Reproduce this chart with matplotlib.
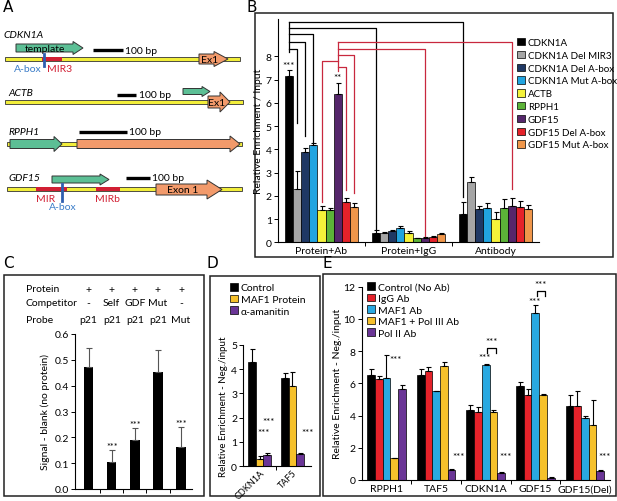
import numpy as np
import matplotlib
matplotlib.use('Agg')
import matplotlib.pyplot as plt
from matplotlib import patches

plt.rcParams['font.family'] = ['Lato', 'DejaVu Sans']
plt.rcParams['axes.linewidth'] = 0.8

W, H = 617, 502

# ---------------- data ----------------
b_groups = ['Protein+Ab', 'Protein+IgG', 'Antibody']
b_series = ['CDKN1A', 'CDKN1A Del MIR3', 'CDKN1A Del A-box', 'CDKN1A Mut A-box',
            'ACTB', 'RPPH1', 'GDF15', 'GDF15 Del A-box', 'GDF15 Mut A-box']
b_colors = ['#000000', '#a5a5a5', '#1f3864', '#21a4e0', '#f4f23a',
            '#5cb338', '#55266b', '#e5222a', '#f0964a']
b_vals = [[7.15, 0.39, 1.22],
          [2.30, 0.39, 2.58],
          [3.90, 0.47, 1.43],
          [4.20, 0.63, 1.48],
          [1.40, 0.39, 1.00],
          [1.40, 0.17, 1.49],
          [6.40, 0.19, 1.58],
          [1.75, 0.23, 1.50],
          [1.52, 0.34, 1.42]]
b_errs = [[0.25, 0.15, 0.53],
          [0.75, 0.04, 0.22],
          [0.15, 0.04, 0.15],
          [0.08, 0.08, 0.21],
          [0.15, 0.11, 0.29],
          [0.08, 0.02, 0.37],
          [0.45, 0.02, 0.31],
          [0.17, 0.05, 0.26],
          [0.18, 0.07, 0.20]]

c_vals = [0.474, 0.106, 0.188, 0.454, 0.163]
c_errs = [0.071, 0.046, 0.049, 0.086, 0.078]
c_protein = ['+', '+', '+', '+', '+']
c_competitor = ['-', 'Self', 'GDF', 'Mut', '-']
c_probe = ['p21', 'p21', 'p21', 'p21', 'Mut']
c_stars = ['', '***', '***', '', '***']

d_genes = ['CDKN1A', 'TAF5']
d_series = ['Control', 'MAF1 Protein', 'α-amanitin']
d_colors = ['#000000', '#f6c12b', '#6a3596']
d_vals = [[4.30, 3.62], [0.30, 3.30], [0.48, 0.52]]
d_errs = [[0.52, 0.20], [0.11, 0.58], [0.07, 0.03]]

e_genes = ['RPPH1', 'TAF5', 'CDKN1A', 'GDF15', 'GDF15(Del)']
e_series = ['Control (No Ab)', 'IgG Ab', 'MAF1 Ab', 'MAF1 + Pol III Ab', 'Pol II Ab']
e_colors = ['#000000', '#e5222a', '#29a9e1', '#f6c12b', '#6a3596']
e_vals = [[6.50, 6.54, 4.33, 5.84, 4.58],
          [6.25, 6.76, 4.19, 5.30, 4.60],
          [6.35, 5.50, 7.11, 10.35, 3.86],
          [1.34, 7.07, 4.19, 5.30, 3.40],
          [5.67, 0.62, 0.45, 0.14, 0.58]]
e_errs = [[0.40, 0.33, 0.31, 0.24, 0.68],
          [0.20, 0.24, 0.35, 0.37, 0.93],
          [1.38, 0.02, 0.07, 0.52, 0.12],
          [0.02, 0.23, 0.14, 0.02, 1.59],
          [0.21, 0.06, 0.07, 0.06, 0.04]]

# ---------------- figure ----------------
fig = plt.figure(figsize=(W / 100, H / 100), dpi=100)
bg = fig.add_axes([0, 0, 1, 1])
bg.set_xlim(0, W)
bg.set_ylim(H, 0)
bg.axis('off')


def rect(x0, y0, x1, y1):
    return [x0 / W, 1 - y1 / H, (x1 - x0) / W, (y1 - y0) / H]


# panel frames and letters
for x0, y0, x1, y1 in [(255, 14, 613, 258), (4, 276, 204, 497),
                       (210, 277, 320, 497), (323, 275, 616, 497)]:
    bg.add_patch(patches.Rectangle((x0, y0), x1 - x0, y1 - y0, fill=False,
                                   ec='#222222', lw=1.1))
for lab, x, y in [('A', 3, 8), ('B', 247, 8), ('C', 3, 264), ('D', 207, 264), ('E', 322, 264)]:
    bg.text(x, y, lab, fontsize=11, va='center', ha='left', family=['DejaVu Sans'])

# ---------------- panel A (gene diagrams, pixel coords) ----------------
GREEN, ORANGE, YEL = '#5cbf95', '#f29a6b', '#f2ee3a'
MIRRED, ABLUE = '#d11f33', '#2f5fb0'


def arrow(x0, x1, y, body, head, hlen, fc):
    bg.add_patch(patches.FancyArrow(x0, y, x1 - x0, 0, width=body, head_width=head,
                                    head_length=hlen, length_includes_head=True,
                                    fc=fc, ec='#333333', lw=0.7, zorder=3))


def dna(x0, x1, y):
    bg.add_patch(patches.Rectangle((x0, y - 2), x1 - x0, 4, fc=YEL, ec='#333333',
                                   lw=0.6, zorder=2))


def scale(x0, x1, y, tx):
    bg.plot([x0, x1], [y, y], color='k', lw=2.4, solid_capstyle='butt')
    bg.text(tx, y, '100 bp', fontsize=7.5, va='center', ha='left')


# CDKN1A
bg.text(3, 36, 'CDKN1A', fontsize=7.5, style='italic', va='center')
arrow(16, 83, 49, 8, 13, 10, GREEN)
bg.text(45, 49, 'template', fontsize=7.5, ha='center', va='center', zorder=4)
scale(93, 123, 51, 125)
dna(5, 240, 60)
bg.add_patch(patches.Rectangle((42, 58), 20, 4, fc=MIRRED, ec='none', zorder=3))
bg.plot([44, 44], [55, 67], color=ABLUE, lw=2, zorder=4)
bg.text(41.5, 69.5, 'A-box', fontsize=7.5, color='#3a7cc8', ha='right', va='center')
bg.text(47.5, 69.5, 'MIR3', fontsize=7.5, color=MIRRED, ha='left', va='center')
arrow(199, 228, 60, 10, 15, 14, ORANGE)
bg.text(210, 60.5, 'Ex1', fontsize=7.5, ha='center', va='center', zorder=4)

# ACTB
bg.text(8, 93, 'ACTB', fontsize=7.5, style='italic', va='center')
scale(117, 136, 96, 139)
arrow(183, 210, 92.5, 6, 10, 8, GREEN)
dna(5, 243, 103)
arrow(208, 230, 103, 12, 20, 10, ORANGE)
bg.text(217, 103.5, 'Ex1', fontsize=7.5, ha='center', va='center', zorder=4)

# RPPH1
bg.text(8, 133, 'RPPH1', fontsize=7.5, style='italic', va='center')
scale(79, 127, 133, 129)
dna(7, 242, 145)
arrow(10, 62, 145, 9, 15, 8, GREEN)
arrow(77, 240, 145, 9, 16, 10, ORANGE)

# GDF15
bg.text(8, 179, 'GDF15', fontsize=7.5, style='italic', va='center')
arrow(52, 109, 180.5, 7, 11, 9, GREEN)
scale(126, 150, 179, 152)
dna(7, 242, 190)
bg.add_patch(patches.Rectangle((36, 188), 31, 4, fc=MIRRED, ec='none', zorder=3))
bg.add_patch(patches.Rectangle((96, 188), 24, 4, fc=MIRRED, ec='none', zorder=3))
bg.plot([62, 62], [185, 202], color=ABLUE, lw=2, zorder=4)
arrow(156, 222, 190.5, 11, 19, 15, ORANGE)
bg.text(183, 191, 'Exon 1', fontsize=7.5, ha='center', va='center', zorder=4)
bg.text(46, 199.5, 'MIR', fontsize=7.5, color=MIRRED, ha='center', va='center')
bg.text(108, 199.5, 'MIRb', fontsize=7.5, color=MIRRED, ha='center', va='center')
bg.text(63, 208, 'A-box', fontsize=7.5, color='#3a7cc8', ha='center', va='center')

err_kw = dict(elinewidth=0.8, capsize=1.8, capthick=0.8, ecolor='k')


def style_axes(ax, fs=7.5):
    ax.patch.set_alpha(0)
    ax.spines[['top', 'right']].set_visible(False)
    ax.tick_params(axis='y', length=3, width=0.7, labelsize=fs, pad=1.5)
    ax.tick_params(axis='x', which='major', length=0, labelsize=fs, pad=3)
    ax.tick_params(axis='x', which='minor', length=3, width=0.7)


# ---------------- panel B ----------------
axB = fig.add_axes(rect(278, 20.1, 539, 243.3))
axB.set_xlim(-0.5, 2.5)
axB.set_ylim(0, 9.6)
bw = 0.0945
xg = np.arange(len(b_groups))
for i, (name, v, e, c) in enumerate(zip(b_series, b_vals, b_errs, b_colors)):
    axB.bar(xg + (i - 4) * bw, v, bw, color=c, edgecolor='k', linewidth=0.5,
            yerr=[np.zeros(3), e], error_kw=err_kw, label=name)
axB.set_yticks(range(9))
axB.set_xticks(xg)
axB.set_xticklabels(b_groups)
axB.set_xticks([0.5, 1.5], minor=True)
style_axes(axB)
axB.set_ylabel('Relative Enrichment / Input', fontsize=7.5, labelpad=2)


def bx(s, g):
    return g + (s - 4) * bw


# significance brackets
black_br = [(0, 2, 9.49, 1.95), (0, 1, 9.20, 0.57), (3, 0, 8.96, 4.33),
            (2, 0, 8.63, 4.58), (1, 0, 8.31, 5.13)]
for s, g, lev, end in black_br:
    axB.plot([bx(0, 0), bx(s, g), bx(s, g)], [lev, lev, end], color='k', lw=0.9, clip_on=False)
axB.plot([bx(0, 0)] * 2, [9.49, 8.18], color='k', lw=0.9, clip_on=False)
RB = '#c8283e'
red_br = [(6, 2, 8.63, 2.29), (6, 1, 8.31, 0.25), (8, 0, 8.05, 2.10),
          (4, 0, 7.81, 1.75), (7, 0, 7.53, 2.25)]
for s, g, lev, end in red_br:
    axB.plot([bx(6, 0), bx(s, g), bx(s, g)], [lev, lev, end], color=RB, lw=0.9, clip_on=False)
axB.plot([bx(6, 0)] * 2, [8.63, 7.38], color=RB, lw=0.9, clip_on=False)
axB.text(bx(0, 0), 7.42, '***', fontsize=7, ha='center', va='bottom')
axB.text(bx(6, 0), 6.88, '**', fontsize=7, ha='center', va='bottom')
axB.legend(loc='upper left', bbox_to_anchor=(517 / W, 1 - 39 / H),
           bbox_transform=fig.transFigure, frameon=False, fontsize=7,
           handlelength=0.8, handleheight=0.8, handletextpad=0.3,
           labelspacing=0.38, borderpad=0, borderaxespad=0)

# ---------------- panel C ----------------
axC = fig.add_axes(rect(75, 335, 191.7, 490))
axC.set_xlim(-0.59, 4.46)
axC.set_ylim(0, 0.6)
xc = np.arange(len(c_vals))
axC.bar(xc, c_vals, 0.41, color='k', yerr=[np.zeros(5), c_errs],
        error_kw=dict(elinewidth=0.8, capsize=2, capthick=0.8, ecolor='#555555'))
for x, v, e, s in zip(xc, c_vals, c_errs, c_stars):
    if s:
        axC.text(x, v + e - 0.004, s, fontsize=6.5, ha='center', va='bottom')
axC.set_yticks(np.arange(0, 0.61, 0.1))
axC.set_yticklabels(['%.1f' % t for t in np.arange(0, 0.61, 0.1)])
axC.set_xticks([])
axC.set_xticks(np.arange(0.5, 4.5, 1), minor=True)
style_axes(axC, 7.5)
axC.set_ylabel('Signal - blank (no protein)', fontsize=7.5, labelpad=3)
for row, py, vals in [('Protein', 290, c_protein), ('Competitor', 303.5, c_competitor),
                      ('Probe', 320.5, c_probe)]:
    bg.text(26, py, row, fontsize=7.5, va='center', ha='left')
    for x, t in zip(xc, vals):
        axC.text(x, (490 - py) / 155.0, t, fontsize=7.5, ha='center', va='center',
                 transform=axC.get_xaxis_transform())

# ---------------- panel D ----------------
axD = fig.add_axes(rect(243.3, 345.7, 311, 467.3))
axD.set_xlim(-0.5, 1.57)
axD.set_ylim(0, 5)
xd = np.arange(len(d_genes))
dw = 0.235
for i, (name, v, e, c) in enumerate(zip(d_series, d_vals, d_errs, d_colors)):
    axD.bar(xd + (i - 1) * dw, v, dw, color=c, edgecolor='k', linewidth=0.5,
            yerr=[np.zeros(2), e], error_kw=err_kw, label=name)
axD.set_xticks(xd)
axD.set_xticklabels(d_genes, rotation=45, ha='right', rotation_mode='anchor')
axD.set_xticks([0.5], minor=True)
axD.set_yticks(range(6))
style_axes(axD, 7.5)
axD.tick_params(axis='x', which='major', labelsize=6.5, pad=1)
axD.set_ylabel('Relative Enrichment - Neg./input', fontsize=7, labelpad=2)
axD.text(0.28, 1.84, '***', fontsize=7, ha='center', va='center')
axD.text(0.12, 1.37, '***', fontsize=7, ha='center', va='center')
axD.text(1.47, 1.37, '***', fontsize=7, ha='center', va='center')
axD.legend(loc='upper left', bbox_to_anchor=(230 / W, 1 - 284 / H),
           bbox_transform=fig.transFigure, frameon=False, fontsize=7.5,
           handlelength=0.75, handleheight=0.75, handletextpad=0.3,
           labelspacing=0.2, borderpad=0, borderaxespad=0)

# ---------------- panel E ----------------
axE = fig.add_axes(rect(361.7, 287.5, 609.7, 481))
axE.set_xlim(-0.5, 4.5)
axE.set_ylim(0, 12)
xe = np.arange(len(e_genes))
ew = 0.155
for i, (name, v, e, c) in enumerate(zip(e_series, e_vals, e_errs, e_colors)):
    axE.bar(xe + (i - 2) * ew, v, ew, color=c, edgecolor='k', linewidth=0.5,
            yerr=[np.zeros(5), e], error_kw=err_kw, label=name)
axE.set_xticks(xe)
axE.set_xticklabels(e_genes)
axE.set_xticks(np.arange(0.5, 4.5, 1), minor=True)
axE.set_yticks(range(0, 13, 2))
style_axes(axE, 7.5)
axE.set_ylabel('Relative Enrichment - Neg./input', fontsize=7.5, labelpad=1)
for x, y in [(0.18, 7.45), (1.45, 1.45), (2.4, 1.45), (4.4, 1.45),
             (1.98, 7.6), (2.98, 11.1)]:
    axE.text(x, y, '***', fontsize=7, ha='center', va='center')
for g, lo, hi in [(2, 7.9, 8.2), (3, 11.44, 11.75)]:
    x0, x1 = g + 0.03, g + 0.2
    axE.plot([x0, x0, x1, x1], [lo, hi, hi, lo], color='k', lw=0.9)
    axE.text((x0 + x1) / 2, hi + 0.4, '***', fontsize=7, ha='center', va='center')
axE.legend(loc='upper left', bbox_to_anchor=(367 / W, 1 - 283 / H),
           bbox_transform=fig.transFigure, frameon=False, fontsize=7.5,
           handlelength=0.75, handleheight=0.75, handletextpad=0.3,
           labelspacing=0.2, borderpad=0, borderaxespad=0)

fig.savefig('out.png', dpi=100)
